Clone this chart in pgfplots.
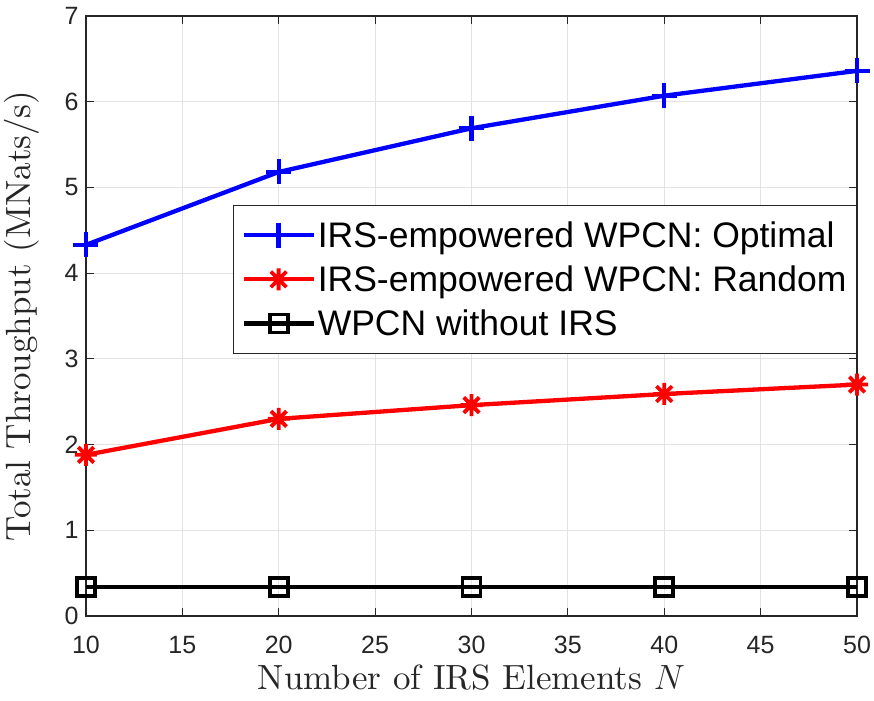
\RequirePackage{fix-cm}
\documentclass[border=0pt]{standalone}
\usepackage{fontspec}
\setmainfont{lmroman10-regular.otf}[ItalicFont=lmroman10-italic.otf, BoldFont=lmroman10-bold.otf]
\setsansfont{Liberation Sans}
\usepackage{pgfplots}
\pgfplotsset{compat=1.18}
\usetikzlibrary{calc}
\definecolor{axgray}{gray}{0.15}
\pgfdeclareplotmark{ast8}{%
  \pgfpathmoveto{\pgfqpoint{0pt}{\pgfplotmarksize}}%
  \pgfpathlineto{\pgfqpoint{0pt}{-\pgfplotmarksize}}%
  \pgfpathmoveto{\pgfqpoint{\pgfplotmarksize}{0pt}}%
  \pgfpathlineto{\pgfqpoint{-\pgfplotmarksize}{0pt}}%
  \pgfpathmoveto{\pgfqpoint{0.7071\pgfplotmarksize}{0.7071\pgfplotmarksize}}%
  \pgfpathlineto{\pgfqpoint{-0.7071\pgfplotmarksize}{-0.7071\pgfplotmarksize}}%
  \pgfpathmoveto{\pgfqpoint{-0.7071\pgfplotmarksize}{0.7071\pgfplotmarksize}}%
  \pgfpathlineto{\pgfqpoint{0.7071\pgfplotmarksize}{-0.7071\pgfplotmarksize}}%
  \pgfusepathqstroke}
\begin{document}
\begin{tikzpicture}
\begin{axis}[
  scale only axis, width=771pt, height=600pt,
  xmin=10, xmax=50, ymin=0, ymax=7,
  xtick={10,15,...,50}, ytick={0,1,...,7},
  grid=major, major grid style={gray!22, line width=1pt},
  axis line style={axgray, line width=1.2pt},
  tick style={axgray, line width=1.2pt},
  major tick length=8pt,
  tick align=inside,
  ticklabel style={font=\fontsize{25}{25}\selectfont\sffamily, text=axgray},
  xticklabel style={yshift=-17pt},
  yticklabel style={xshift=-4pt},
  /pgf/number format/assume math mode=true,
  xlabel={Number of IRS Elements $N$},
  ylabel={Total Throughput (MNats/s)},
  label style={font=\fontsize{35}{35}\selectfont, text=axgray},
  xlabel style={at={(axis description cs:0.5,-0.103)}, anchor=center},
  ylabel style={at={(axis description cs:-0.083,0.5)}, anchor=center},
  legend style={at={(rel axis cs:1,0.685)}, anchor=north east,
    font=\fontsize{35.5}{35.5}\selectfont\sffamily, draw=axgray, line width=1pt,
    inner xsep=8pt, inner ysep=14pt, row sep=13pt,
    cells={anchor=west}},
  legend image code/.code={%
    \draw[mark repeat=2,mark phase=2] plot coordinates {(0pt,0pt)(35pt,0pt)(70pt,0pt)};},
]
\addplot[blue, line width=4.3pt, mark=+, mark size=12.5pt, mark options={line width=4.3pt}]
  coordinates {(10,4.33) (20,5.18) (30,5.69) (40,6.07) (50,6.36)};
\addlegendentry{IRS-empowered WPCN: Optimal}
\addplot[red, line width=4.3pt, mark=ast8, mark size=11pt, mark options={line width=3.8pt}]
  coordinates {(10,1.88) (20,2.30) (30,2.46) (40,2.59) (50,2.70)};
\addlegendentry{IRS-empowered WPCN: Random}
\addplot[black, line width=4.3pt, mark=square, mark size=9pt, mark options={line width=3.8pt}]
  coordinates {(10,0.34) (20,0.34) (30,0.34) (40,0.34) (50,0.34)};
\addlegendentry{WPCN without IRS}
\end{axis}
\pgfresetboundingbox
\path[use as bounding box] ($(current axis.south west)+(-86pt,-85pt)$) rectangle ($(current axis.north east)+(17pt,16pt)$);
\end{tikzpicture}
\end{document}
